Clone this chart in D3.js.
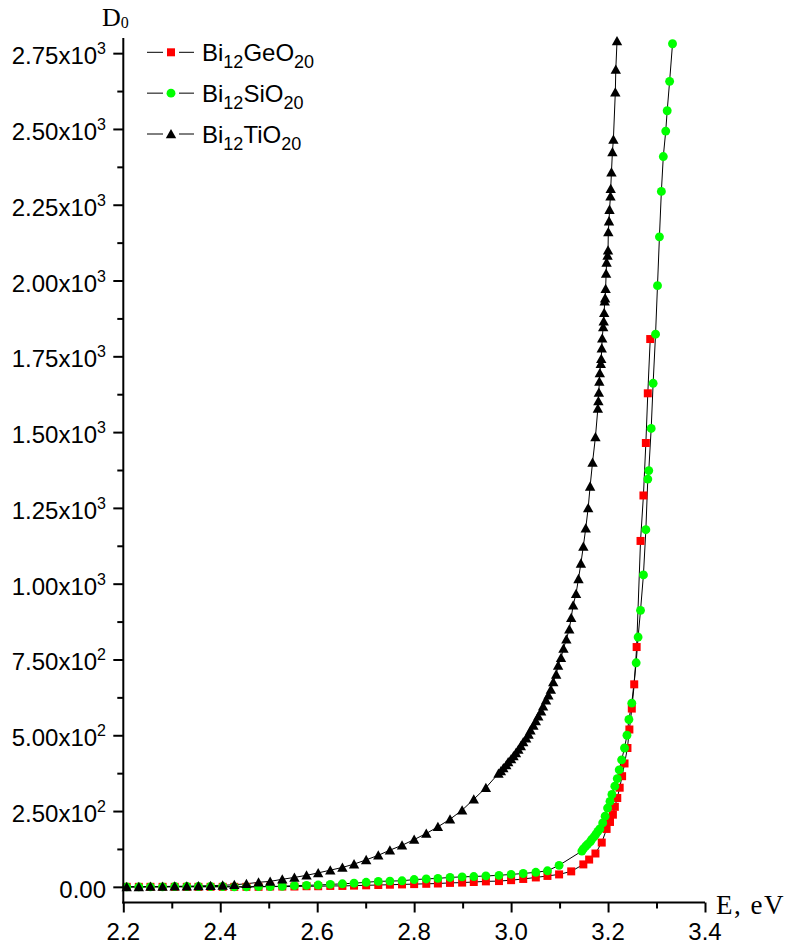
<!DOCTYPE html>
<html>
<head>
<meta charset="utf-8">
<script src="https://cdn.jsdelivr.net/npm/d3@7/dist/d3.min.js"></script>
<style>
  html, body { margin: 0; padding: 0; background: #fff; }
  svg { display: block; }
  .tick-label { font-family: Arial, "Liberation Sans", sans-serif; fill: #000; }
  .axis-title { font-family: "Times New Roman", "Liberation Serif", serif; fill: #000; }
</style>
</head>
<body>
<svg id="chart" width="790" height="949"></svg>
<script>
// ---- Absorption data: optical density D0 versus photon energy E (eV) ----

// Bi12GeO20
const geE = [2.207, 2.232, 2.256, 2.281, 2.306, 2.331, 2.355, 2.380, 2.405, 2.429,
             2.454, 2.479, 2.503, 2.528, 2.553, 2.578, 2.602, 2.627, 2.652, 2.676,
             2.701, 2.726, 2.750, 2.775, 2.800, 2.825, 2.849, 2.874, 2.899, 2.923,
             2.948, 2.975, 3.000, 3.025, 3.051, 3.075, 3.099, 3.124, 3.149, 3.161,
             3.174, 3.187, 3.197, 3.204, 3.210, 3.214, 3.219, 3.224, 3.229, 3.234,
             3.240, 3.244, 3.249, 3.254, 3.259, 3.267, 3.273, 3.278, 3.282, 3.287];
const geD = [0, 0, 0, 0, 0, 0, 0, 0, 0, 0,
             0, 0, 1, 1, 1, 2, 2, 3, 3, 4,
             5, 6, 7, 8, 9, 10, 11, 13, 14, 16,
             18, 19, 22, 26, 31, 36, 41, 51, 74, 90,
             110, 146, 191, 214, 238, 264, 293, 327, 365, 407,
             458, 519, 588, 668, 791, 1141, 1291, 1464, 1628, 1807];

// Bi12SiO20
const siE = [2.207, 2.232, 2.256, 2.281, 2.306, 2.331, 2.355, 2.380, 2.405, 2.429,
             2.454, 2.479, 2.503, 2.528, 2.553, 2.578, 2.602, 2.627, 2.652, 2.676,
             2.701, 2.726, 2.750, 2.775, 2.800, 2.825, 2.849, 2.874, 2.899, 2.923,
             2.948, 2.975, 3.000, 3.025, 3.051, 3.075, 3.099, 3.146, 3.149, 3.154,
             3.158, 3.163, 3.166, 3.171, 3.175, 3.179, 3.183, 3.189, 3.194, 3.199,
             3.204, 3.208, 3.214, 3.219, 3.223, 3.228, 3.234, 3.239, 3.243, 3.249,
             3.258, 3.262, 3.267, 3.273, 3.278, 3.282, 3.284, 3.289, 3.293, 3.298,
             3.302, 3.306, 3.310, 3.314, 3.319, 3.322, 3.327, 3.333];
const siD = [0, 0, 0, 0, 1, 1, 1, 1, 1, 0,
             0, 1, 1, 2, 4, 5, 6, 8, 10, 12,
             15, 18, 19, 20, 24, 26, 28, 31, 33, 34,
             36, 38, 41, 44, 48, 53, 71, 118, 125, 134,
             141, 148, 156, 165, 174, 183, 191, 211, 233, 260,
             282, 305, 332, 357, 386, 419, 458, 500, 552, 606,
             739, 824, 912, 1029, 1178, 1345, 1373, 1512, 1661, 1823,
             1983, 2144, 2294, 2409, 2493, 2560, 2657, 2781];

// Bi12TiO20
const tiE = [2.207, 2.232, 2.256, 2.281, 2.306, 2.331, 2.355, 2.380, 2.405, 2.429,
             2.454, 2.479, 2.503, 2.528, 2.553, 2.578, 2.602, 2.627, 2.652, 2.676,
             2.701, 2.726, 2.750, 2.775, 2.800, 2.825, 2.849, 2.874, 2.899, 2.923,
             2.948, 2.974, 2.979, 2.984, 2.990, 2.994, 3.000, 3.005, 3.010, 3.015,
             3.020, 3.025, 3.031, 3.036, 3.040, 3.046, 3.051, 3.056, 3.062, 3.066,
             3.072, 3.077, 3.082, 3.087, 3.093, 3.097, 3.103, 3.108, 3.114, 3.120,
             3.124, 3.128, 3.134, 3.139, 3.144, 3.149, 3.154, 3.159, 3.163, 3.168,
             3.174, 3.179, 3.180, 3.181, 3.182, 3.183, 3.185, 3.186, 3.187, 3.188,
             3.190, 3.191, 3.192, 3.193, 3.194, 3.195, 3.196, 3.197, 3.199, 3.200,
             3.2005, 3.202, 3.203, 3.205, 3.2055, 3.207, 3.209, 3.211, 3.215, 3.216,
             3.2185];
const tiD = [0, 0, 1, 1, 2, 2, 3, 4, 5, 7,
             10, 15, 18, 25, 31, 38, 46, 55, 64, 75,
             89, 104, 121, 137, 156, 176, 198, 223, 253, 289,
             327, 374, 382, 392, 402, 412, 422, 432, 442, 453,
             465, 478, 490, 503, 517, 532, 547, 563, 579, 596,
             616, 632, 651, 676, 701, 730, 756, 786, 817, 850,
             888, 929, 967, 1016, 1067, 1123, 1183, 1250, 1321, 1400,
             1484, 1578, 1603, 1631, 1667, 1695, 1726, 1742, 1777, 1810,
             1847, 1866, 1894, 1932, 1942, 1973, 2023, 2060, 2083, 2100,
             2160, 2196, 2234, 2278, 2303, 2357, 2424, 2465, 2621, 2696,
             2790];

// Axis ticks
const xTicks = [2.2, 2.4, 2.6, 2.8, 3.0, 3.2, 3.4];
const xTickLabels = ["2.2", "2.4", "2.6", "2.8", "3.0", "3.2", "3.4"];
const xMinorTicks = [2.3, 2.5, 2.7, 2.9, 3.1, 3.3];
const yTicks = [0, 250, 500, 750, 1000, 1250, 1500, 1750, 2000, 2250, 2500, 2750];
const yTickMantissa = ["0.00", "2.50x10", "5.00x10", "7.50x10", "1.00x10", "1.25x10",
                       "1.50x10", "1.75x10", "2.00x10", "2.25x10", "2.50x10", "2.75x10"];
const yTickExponent = ["", "2", "2", "2", "3", "3", "3", "3", "3", "3", "3", "3"];
const yMinorTicks = [125, 375, 625, 875, 1125, 1375, 1625, 1875, 2125, 2375, 2625];

// Series, legend names as base/subscript parts
const seriesNames = [
  [["Bi", ""], ["12", "sub"], ["GeO", ""], ["20", "sub"]],
  [["Bi", ""], ["12", "sub"], ["SiO", ""], ["20", "sub"]],
  [["Bi", ""], ["12", "sub"], ["TiO", ""], ["20", "sub"]]
];
const seriesColors = ["#ff0000", "#00ff00", "#000000"];
const seriesShapes = ["square", "circle", "triangle"];

const series = [
  { e: geE, d: geD },
  { e: siE, d: siD },
  { e: tiE, d: tiD }
];

// ---- Layout ----
const svg = d3.select("#chart");
const x = d3.scaleLinear().domain([2.2, 3.4]).range([123.3, 705]);
const y = d3.scaleLinear().domain([-50, 2800]).range([902, 38]);

function markerPath(shape) {
  if (shape === "square") return "M-4,-4H4V4H-4Z";
  if (shape === "circle") return d3.symbol(d3.symbolCircle, 62)();
  return "M0,-5L5.2,4.3L-5.2,4.3Z";
}

const plot = svg.append("g");

// Connecting lines
const line = d3.line().x(p => x(p[0])).y(p => y(p[1]));
series.forEach((s, i) => {
  const pts = s.e.map((e, j) => [e, s.d[j]]);
  plot.append("path")
    .attr("d", line(pts))
    .attr("fill", "none")
    .attr("stroke", "#000")
    .attr("stroke-width", 1);
});

// Markers
series.forEach((s, i) => {
  const pts = s.e.map((e, j) => [e, s.d[j]]);
  plot.append("g").selectAll("path")
    .data(pts)
    .join("path")
    .attr("transform", p => `translate(${x(p[0])},${y(p[1])})`)
    .attr("d", markerPath(seriesShapes[i]))
    .attr("fill", seriesColors[i]);
});

// ---- Axes ----
const xAxis = d3.axisBottom(x).tickValues(xTicks).tickSize(10).tickFormat("");
const xAxisMinor = d3.axisBottom(x).tickValues(xMinorTicks).tickSize(6).tickFormat("");
const yAxis = d3.axisLeft(y).tickValues(yTicks).tickSize(10).tickFormat("");
const yAxisMinor = d3.axisLeft(y).tickValues(yMinorTicks).tickSize(6).tickFormat("");

function styleAxis(g) {
  g.select(".domain").remove();
  g.selectAll("line").attr("stroke", "#000").attr("stroke-width", 2);
}

svg.append("g").attr("transform", "translate(0,902.5)").call(xAxis).call(styleAxis);
svg.append("g").attr("transform", "translate(0,902.5)").call(xAxisMinor).call(styleAxis);
svg.append("g").attr("transform", "translate(123.3,0)").call(yAxis).call(styleAxis);
svg.append("g").attr("transform", "translate(123.3,0)").call(yAxisMinor).call(styleAxis);

// Axis lines
svg.append("line").attr("x1", 123.3).attr("x2", 123.3).attr("y1", 38).attr("y2", 903.5)
  .attr("stroke", "#000").attr("stroke-width", 2);
svg.append("line").attr("x1", 122.3).attr("x2", 705).attr("y1", 902.5).attr("y2", 902.5)
  .attr("stroke", "#000").attr("stroke-width", 2);

// X tick labels
svg.append("g").selectAll("text")
  .data(xTicks)
  .join("text")
  .attr("class", "tick-label")
  .attr("x", d => x(d))
  .attr("y", 940)
  .attr("text-anchor", "middle")
  .attr("font-size", 24)
  .text((d, i) => xTickLabels[i]);

// Y tick labels with superscript exponent
const yl = svg.append("g").selectAll("text")
  .data(yTicks)
  .join("text")
  .attr("class", "tick-label")
  .attr("x", 106)
  .attr("y", d => y(d) + 11)
  .attr("text-anchor", "end")
  .attr("font-size", 24);
yl.append("tspan").text((d, i) => yTickMantissa[i]);
yl.append("tspan")
  .attr("font-size", 16)
  .attr("dy", (d, i) => yTickExponent[i] ? -10 : 0)
  .text((d, i) => yTickExponent[i]);

// Axis titles
const yTitle = svg.append("text").attr("class", "axis-title")
  .attr("x", 102).attr("y", 26).attr("font-size", 26);
yTitle.append("tspan").text("D");
yTitle.append("tspan").attr("font-size", 16).attr("dy", 2).text("0");

svg.append("text").attr("class", "axis-title")
  .attr("x", 716).attr("y", 914).attr("font-size", 27)
  .attr("letter-spacing", 1.5)
  .text("E, eV");

// ---- Legend ----
const legend = svg.append("g");
seriesNames.forEach((parts, i) => {
  const cy = 52.3 + i * 40.85;
  const g = legend.append("g");
  g.append("line").attr("x1", 147).attr("x2", 163).attr("y1", cy).attr("y2", cy)
    .attr("stroke", "#000").attr("stroke-width", 1);
  g.append("line").attr("x1", 179).attr("x2", 194).attr("y1", cy).attr("y2", cy)
    .attr("stroke", "#000").attr("stroke-width", 1);
  g.append("path").attr("transform", `translate(171,${cy})`)
    .attr("d", markerPath(seriesShapes[i]))
    .attr("fill", seriesColors[i]);
  const t = g.append("text").attr("class", "tick-label")
    .attr("x", 202).attr("y", cy + 8.5).attr("font-size", 24);
  let shifted = false;
  parts.forEach(([txt, kind]) => {
    const span = t.append("tspan").text(txt);
    if (kind === "sub") {
      span.attr("font-size", 18).attr("dy", shifted ? 0 : 7);
      shifted = true;
    } else {
      span.attr("dy", shifted ? -7 : 0);
      shifted = false;
    }
  });
});
</script>
</body>
</html>
